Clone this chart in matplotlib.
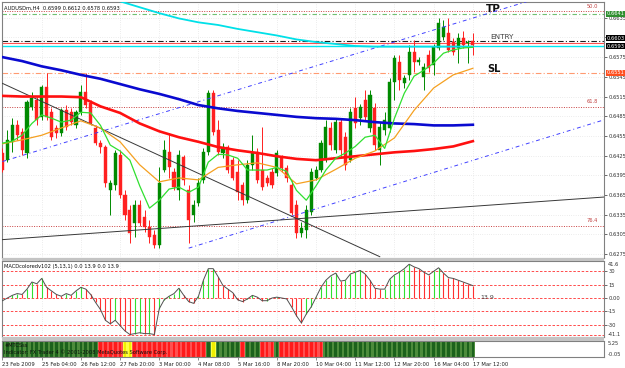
import matplotlib
matplotlib.use("Agg")
import matplotlib.pyplot as plt
import matplotlib.transforms as mtransforms
from matplotlib.patches import Rectangle
import numpy as np

plt.rcParams["font.family"] = "DejaVu Sans"

W, H = 625, 368

# ---- data (AUDUSDm, H4) ----
date_labels = ["23 Feb 2009", "25 Feb 04:00", "26 Feb 12:00", "27 Feb 20:00",
               "3 Mar 00:00", "4 Mar 08:00", "5 Mar 16:00", "8 Mar 20:00",
               "10 Mar 04:00", "11 Mar 12:00", "12 Mar 20:00", "16 Mar 04:00",
               "17 Mar 12:00"]
label_every = 8

opens = [0.6429, 0.6418, 0.6446, 0.6471, 0.6461, 0.6429, 0.6499, 0.6510, 0.6484, 0.6529,
         0.6491, 0.6467, 0.6459, 0.6494, 0.6491, 0.6471, 0.6491, 0.6522, 0.6505, 0.6467,
         0.6444, 0.6438, 0.6372, 0.6380, 0.6426, 0.6365, 0.6342, 0.6322, 0.6350, 0.6331,
         0.6316, 0.6304, 0.6289, 0.6403, 0.6430, 0.6400, 0.6372, 0.6423, 0.6372, 0.6334,
         0.6353, 0.6388, 0.6430, 0.6520, 0.6464, 0.6429, 0.6438, 0.6418, 0.6400, 0.6380,
         0.6357, 0.6411, 0.6430, 0.6403, 0.6391, 0.6400, 0.6398, 0.6421, 0.6406, 0.6380,
         0.6350, 0.6307, 0.6312, 0.6339, 0.6391, 0.6403, 0.6418, 0.6467, 0.6433, 0.6476,
         0.6453, 0.6418, 0.6497, 0.6482, 0.6510, 0.6467, 0.6497, 0.6433, 0.6464, 0.6467,
         0.6537, 0.6567, 0.6535, 0.6548, 0.6583, 0.6567, 0.6545, 0.6578, 0.6563, 0.6589,
         0.6605, 0.6612, 0.6598, 0.6589, 0.6604, 0.6596, 0.6599]
highs = [0.6436, 0.6464, 0.6482, 0.6479, 0.6467, 0.6510, 0.6522, 0.6514, 0.6532, 0.6551,
         0.6497, 0.6471, 0.6497, 0.6502, 0.6497, 0.6494, 0.6532, 0.6551, 0.6510, 0.6471,
         0.6449, 0.6441, 0.6388, 0.6433, 0.6433, 0.6372, 0.6350, 0.6357, 0.6357, 0.6342,
         0.6327, 0.6312, 0.6407, 0.6449, 0.6459, 0.6406, 0.6433, 0.6426, 0.6380, 0.6357,
         0.6391, 0.6436, 0.6525, 0.6525, 0.6479, 0.6444, 0.6441, 0.6423, 0.6418, 0.6385,
         0.6418, 0.6456, 0.6436, 0.6468, 0.6395, 0.6406, 0.6433, 0.6426, 0.6411, 0.6388,
         0.6357, 0.6324, 0.6350, 0.6406, 0.6409, 0.6449, 0.6479, 0.6476, 0.6482, 0.6482,
         0.6461, 0.6497, 0.6514, 0.6503, 0.6525, 0.6525, 0.6505, 0.6476, 0.6491, 0.6543,
         0.6578, 0.6578, 0.6548, 0.6593, 0.6601, 0.6575, 0.6566, 0.6586, 0.6595, 0.6634,
         0.6631, 0.6634, 0.6604, 0.6612, 0.6615, 0.6601, 0.6612]
lows = [0.6400, 0.6415, 0.6430, 0.6449, 0.6426, 0.6421, 0.6494, 0.6471, 0.6479, 0.6479,
        0.6449, 0.6452, 0.6455, 0.6464, 0.6471, 0.6467, 0.6487, 0.6497, 0.6471, 0.6441,
        0.6429, 0.6377, 0.6334, 0.6372, 0.6360, 0.6327, 0.6292, 0.6301, 0.6318, 0.6308,
        0.6292, 0.6284, 0.6284, 0.6400, 0.6391, 0.6372, 0.6357, 0.6380, 0.6292, 0.6324,
        0.6348, 0.6383, 0.6426, 0.6456, 0.6426, 0.6421, 0.6398, 0.6388, 0.6357, 0.6350,
        0.6353, 0.6403, 0.6383, 0.6372, 0.6379, 0.6376, 0.6394, 0.6400, 0.6385, 0.6334,
        0.6299, 0.6301, 0.6299, 0.6334, 0.6388, 0.6400, 0.6415, 0.6433, 0.6429, 0.6421,
        0.6403, 0.6415, 0.6467, 0.6471, 0.6479, 0.6461, 0.6433, 0.6411, 0.6456, 0.6461,
        0.6510, 0.6525, 0.6528, 0.6540, 0.6552, 0.6563, 0.6525, 0.6552, 0.6548, 0.6586,
        0.6601, 0.6583, 0.6578, 0.6566, 0.6589, 0.6566, 0.6578]
closes = [0.6403, 0.6449, 0.6471, 0.6456, 0.6433, 0.6506, 0.6513, 0.6479, 0.6529, 0.6484,
          0.6453, 0.6459, 0.6494, 0.6468, 0.6476, 0.6491, 0.6522, 0.6502, 0.6474, 0.6444,
          0.6438, 0.6383, 0.6383, 0.6429, 0.6365, 0.6334, 0.6307, 0.6350, 0.6322, 0.6316,
          0.6301, 0.6289, 0.6383, 0.6433, 0.6407, 0.6377, 0.6426, 0.6388, 0.6327, 0.6350,
          0.6383, 0.6430, 0.6520, 0.6461, 0.6430, 0.6438, 0.6403, 0.6391, 0.6369, 0.6357,
          0.6411, 0.6429, 0.6388, 0.6377, 0.6383, 0.6380, 0.6429, 0.6406, 0.6391, 0.6337,
          0.6307, 0.6315, 0.6342, 0.6400, 0.6403, 0.6444, 0.6468, 0.6441, 0.6476, 0.6433,
          0.6411, 0.6491, 0.6474, 0.6499, 0.6484, 0.6517, 0.6441, 0.6468, 0.6479, 0.6537,
          0.6573, 0.6540, 0.6543, 0.6583, 0.6567, 0.6570, 0.6560, 0.6558, 0.6590, 0.6627,
          0.6621, 0.6586, 0.6583, 0.6604, 0.6593, 0.6598, 0.6593]

# moving averages, read every 4th bar (green every 2nd bar)
ma4_bars = list(range(0, 97, 4))
ma_blue = [0.6575, 0.6569, 0.6561, 0.6555, 0.6548, 0.6542, 0.6534, 0.6526, 0.6519, 0.6511,
           0.6502, 0.6497, 0.6493, 0.6490, 0.6487, 0.6484, 0.6482, 0.6481, 0.6479, 0.6476,
           0.6474, 0.6473, 0.6471, 0.6471, 0.6472]
ma_red = [0.6516, 0.6515, 0.6515, 0.6515, 0.6514, 0.6500, 0.6490, 0.6474, 0.6462, 0.6453,
          0.6446, 0.6438, 0.6433, 0.6429, 0.6424, 0.6420, 0.6418, 0.6421, 0.6424, 0.6427,
          0.6430, 0.6432, 0.6435, 0.6439, 0.6447]
ma_orange = [0.6443, 0.6449, 0.6456, 0.6467, 0.6478, 0.6467, 0.6446, 0.6411, 0.6385, 0.6391,
             0.6388, 0.6407, 0.6411, 0.6414, 0.6407, 0.6382, 0.6388, 0.6404, 0.6421, 0.6432,
             0.6452, 0.6494, 0.6528, 0.6548, 0.6558]
ma2_bars = list(range(0, 97, 2))
ma_green = [0.6444, 0.6447, 0.6456, 0.6474, 0.6487, 0.6482, 0.6476, 0.6479, 0.6491, 0.6490,
            0.6471, 0.6441, 0.6432, 0.6418, 0.6379, 0.6345, 0.6357, 0.6374, 0.6377, 0.6369,
            0.6377, 0.6415, 0.6427, 0.6426, 0.6421, 0.6403, 0.6403, 0.6403, 0.6407, 0.6401,
            0.6372, 0.6357, 0.6379, 0.6403, 0.6421, 0.6429, 0.6439, 0.6453, 0.6456, 0.6436,
            0.6482, 0.6520, 0.6546, 0.6555, 0.6566, 0.6581, 0.6586, 0.6589, 0.6590]
cyan_bars = list(range(20, 97, 4))
ma_cyan = [0.6669, 0.6660, 0.6651, 0.6642, 0.6634, 0.6628, 0.6624, 0.6618, 0.6613, 0.6608,
           0.6602, 0.6598, 0.6595, 0.6592, 0.6591, 0.6591, 0.6591, 0.6591, 0.6591, 0.6591]

# horizontal levels
fib_levels = {"50.0": 0.6645, "61.8": 0.6499, "76.4": 0.6318}
tp_price = 0.6641
entry_price = 0.6600
red_line_price = 0.6597
cyan_line_price = 0.6592
sl_price = 0.6551
entry_label = 0.6603
bid_price = 0.6593

# trend lines: (bar, price) end points
channel_upper = [(0, 0.6416), (123, 0.6696)]
channel_lower = [(38, 0.6284), (123, 0.6480)]
trend_down = [(0, 0.6535), (77, 0.6271)]
trend_up = [(0, 0.6297), (123, 0.6362)]

price_ticks = [0.6275, 0.6305, 0.6335, 0.6365, 0.6395, 0.6425, 0.6455, 0.6485,
               0.6515, 0.6545, 0.6575, 0.6605, 0.6635]

macd = [-3, 0, 3, 5, 4, 10, 18, 16, 22, 12,
        8, 4, 2, 5, 3, 8, 12, 10, 4, -5,
        -13, -25, -29, -25, -31, -37, -41, -40, -39, -40,
        -40, -41, -12, -2, 2, 5, 11, 3, -4, -6,
        2, 20, 33, 33, 24, 14, 10, 6, -2, -4,
        -1, 3, 1, -3, -3, 0, 1, 0, -1, -10,
        -20, -28, -18, -10, 1, 12, 20, 25, 28, 19,
        20, 27, 29, 31, 27, 20, 11, 10, 10, 21,
        26, 29, 33, 38, 35, 33, 29, 26, 30, 34,
        28, 23, 22, 20, 18, 16, 13.9]
macd_levels = [30, 15, 0, -15, -30, -41.1]

signal_state = list("gggggggggggggggggggg" "rrrrr" "yy" "rrrrrrrrrrrrrrr" "g" "y"
                    "ggggg" "r" "ggg" "rrr" "g" "rrrrrrrrr"
                    "ggggggggggggggggggggggggggggggg")

# ---- layout helpers ----
def px_axes(x0, y0, x1, y1):
    return [x0 / W, 1 - y1 / H, (x1 - x0) / W, (y1 - y0) / H]

XMIN, XMAX = -0.1, 122.76
GREEN_C, RED_C = "#008a00", "#ff2020"
GRID = dict(color="#c8c8c8", lw=0.4, ls=(0, (1, 3)))
TINY = 3.7

fig = plt.figure(figsize=(W / 100, H / 100), dpi=100)
fig.patch.set_facecolor("white")

ax = fig.add_axes(px_axes(2, 2, 604, 258))
ax_m = fig.add_axes(px_axes(2, 261, 604, 337))
ax_s = fig.add_axes(px_axes(2, 341, 604, 357))

for a in (ax, ax_m, ax_s):
    a.set_xlim(XMIN, XMAX)
    a.set_facecolor("white")
    for s in a.spines.values():
        s.set_color("#808080")
        s.set_linewidth(0.8)
    a.yaxis.tick_right()
    a.tick_params(axis="y", length=2, width=0.5, pad=1, labelsize=TINY, colors="#303030")
    a.set_xticks([i * label_every for i in range(len(date_labels))])
    a.tick_params(axis="x", length=0, labelbottom=False)

# separators between panels
for y0, y1 in ((258, 261), (337, 341)):
    fig.patches.append(Rectangle((2 / W, 1 - y1 / H), 602 / W, (y1 - y0) / H,
                                 transform=fig.transFigure, facecolor="#c4c4c4",
                                 edgecolor="none", zorder=0))

# ---- main price panel ----
ax.set_ylim(0.6269, 0.6659)
ax.set_yticks(price_ticks)
ax.set_yticklabels([f"{p:.4f}" for p in price_ticks])
ax.grid(True, **GRID)

idx = np.arange(len(closes))
o = np.array(opens)
c = np.array(closes)
up = c >= o
cols = np.where(up, GREEN_C, RED_C)
ax.vlines(idx, lows, highs, colors=cols, lw=0.7, zorder=3)
body_lo = np.minimum(o, c)
body_h = np.maximum(np.abs(c - o), 0.00007)
ax.bar(idx, body_h, bottom=body_lo, width=0.62, color=cols, edgecolor=cols, lw=0.3, zorder=4)

# horizontal lines
for name, lvl in fib_levels.items():
    ax.axhline(lvl, color="#c84040", lw=0.7, ls=(0, (1, 1.5)), zorder=2)
    ax.text(121.5, lvl + 0.0004, name, fontsize=TINY, color="#c04040", ha="right", va="bottom")
ax.axhline(tp_price, color="#70c070", lw=0.8, ls=(0, (4, 2, 1, 2)), zorder=2)
ax.axhline(entry_price, color="#202020", lw=0.8, ls=(0, (5, 2, 1, 2)), zorder=2)
ax.axhline(red_line_price, color="#ff5050", lw=0.8, zorder=2)
ax.axhline(cyan_line_price, color="#00e8f0", lw=1.0, zorder=2)
ax.axhline(sl_price, color="#ff9a70", lw=0.8, ls=(0, (5, 2, 1, 2)), zorder=2)

# trend lines
for pts, col, ls in ((channel_upper, "#4040ff", (0, (4, 3, 1, 3))),
                     (channel_lower, "#4040ff", (0, (4, 3, 1, 3))),
                     (trend_down, "#383838", "-"),
                     (trend_up, "#383838", "-")):
    xs, ys = zip(*pts)
    ax.plot(xs, ys, color=col, lw=0.7, ls=ls, zorder=5)

# moving averages
ax.plot(cyan_bars, ma_cyan, color="#00e0e8", lw=1.3, zorder=5)
ax.plot(ma4_bars, ma_blue, color="#0a0ad0", lw=1.9, zorder=6)
ax.plot(ma4_bars, ma_red, color="#ff1010", lw=1.9, zorder=6)
ax.plot(ma4_bars, ma_orange, color="#f5a020", lw=0.9, zorder=6)
ax.plot(ma2_bars, ma_green, color="#30e030", lw=0.9, zorder=6)

# labels
ax.text(0.004, 0.985, "AUDUSDm,H4  0.6599 0.6612 0.6578 0.6593", transform=ax.transAxes,
        fontsize=TINY, va="top", ha="left", color="#101010")
ax.text(100.2, 0.6648, "TP", fontsize=7.5, fontweight="bold", color="#101010", ha="center", va="center")
ax.text(99.5, 0.6606, "ENTRY", fontsize=5.2, color="#404040", ha="left", va="center")
ax.text(100.2, 0.6557, "SL", fontsize=7, fontweight="bold", color="#101010", ha="center", va="center")

bt = mtransforms.blended_transform_factory(ax.transAxes, ax.transData)
for price, txt, bg in ((tp_price, "0.6641", "#2f8f2f"),
                       (entry_label + 0.00007, "0.6603", "#000000"),
                       (bid_price - 0.00012, "0.6593", "#000000"),
                       (sl_price, "0.6551", "#ff5020")):
    ax.text(1.004, price, txt, transform=bt, fontsize=TINY, color="white", ha="left", va="center",
            bbox=dict(boxstyle="square,pad=0.1", fc=bg, ec="none"), zorder=10)

# ---- MACD panel ----
ax_m.set_ylim(-43.8, 41.6)
ax_m.set_yticks([30, 15, 0, -15, -30])
ax_m.set_yticklabels(["30", "15", "0.00", "-15", "-30"])
ax_m.grid(True, axis="x", **GRID)
for lvl in macd_levels:
    ax_m.axhline(lvl, color="#ff3030", lw=0.6, ls=(0, (3, 2)), zorder=1)
mv = np.array(macd, dtype=float)
rising = np.r_[True, mv[1:] >= mv[:-1]]
ax_m.vlines(idx, 0, mv, colors=np.where(rising, "#30e030", "#ff3030"), lw=0.8, zorder=2)
ax_m.plot(idx, mv, color="#505050", lw=0.7, zorder=3)
ax_m.text(0.004, 0.96, "MACDcoloredv102 (5,13,1) 0.0 13.9 0.0 13.9", transform=ax_m.transAxes,
          fontsize=TINY, va="top", ha="left", color="#101010")
ax_m.text(97.5, 1.0, "13.9", fontsize=4.5, color="#404040", ha="left", va="center")
bm = mtransforms.blended_transform_factory(ax_m.transAxes, ax_m.transData)
ax_m.text(1.006, 37.5, "41.6", transform=bm, fontsize=TINY, color="#303030", va="center")
ax_m.text(1.006, -41.1, "-41.1", transform=bm, fontsize=TINY, color="#303030", va="center")

# ---- signal bar panel ----
ax_s.set_ylim(0, 1)
ax_s.set_yticks([])
base = {"g": "#4d8c3c", "r": "#ff5050", "y": "#ffff40"}
dark = {"g": "#1c621c", "r": "#ff1a1a", "y": "#f0f000"}
ax_s.bar(idx, 1, width=1.0, bottom=0, color=[base[s] for s in signal_state], lw=0)
ax_s.bar(idx, 1, width=0.55, bottom=0, color=[dark[s] for s in signal_state], lw=0)
ax_s.text(0.004, 0.88, "#MTCSss", transform=ax_s.transAxes, fontsize=TINY, va="top", color="#101010")
ax_s.text(0.004, 0.45, "Indicator: FX Trader 4 © 2001-2008 MetaQuotes Software Corp.",
          transform=ax_s.transAxes, fontsize=TINY, va="top", color="#101010")
ax_s.text(1.006, 0.85, "5.25", transform=ax_s.transAxes, fontsize=TINY, color="#303030", va="center")
ax_s.text(1.006, 0.15, "-0.05", transform=ax_s.transAxes, fontsize=TINY, color="#303030", va="center")

# time axis
ax_s.tick_params(axis="x", length=2, width=0.5, direction="out", color="#606060",
                 labelbottom=True, labelsize=3.8, pad=1.5, labelcolor="#202020")
ax_s.set_xticklabels(date_labels)
for lbl in ax_s.get_xticklabels():
    lbl.set_horizontalalignment("left")

fig.savefig("out.png", dpi=100, facecolor="white")
